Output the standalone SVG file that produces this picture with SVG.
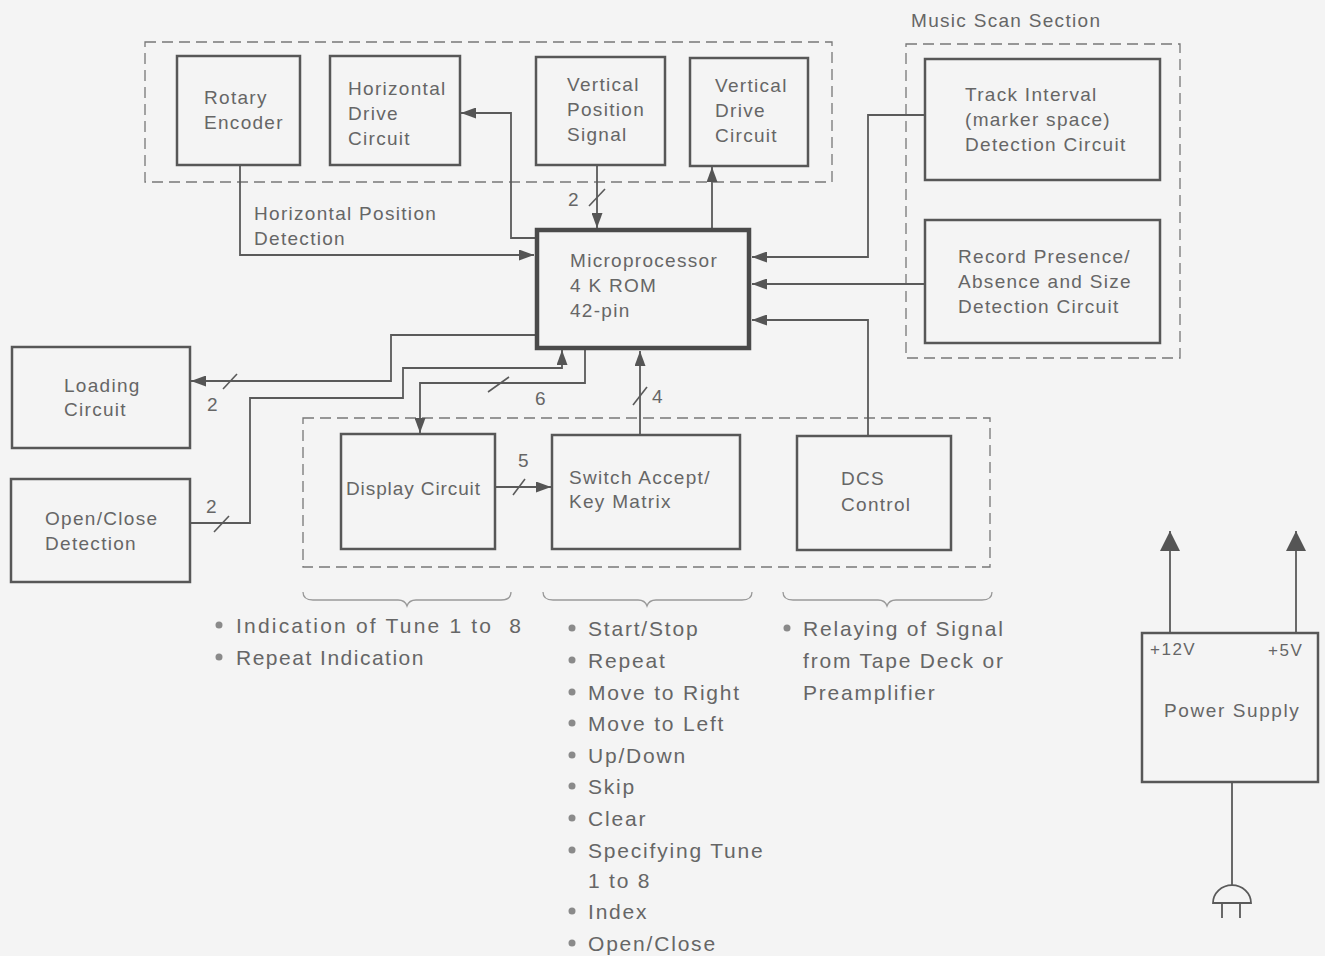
<svg xmlns="http://www.w3.org/2000/svg" width="1325" height="956" viewBox="0 0 1325 956">
<defs>
<style>
.bg{fill:#f4f4f4}
.box{fill:none;stroke:#575757;stroke-width:2.5}
.cpu{fill:none;stroke:#4a4a4a;stroke-width:4.5}
.dash{fill:none;stroke:#777;stroke-width:1.3;stroke-dasharray:11 6}
.ln{fill:none;stroke:#5a5a5a;stroke-width:1.8}
.sl{fill:none;stroke:#5a5a5a;stroke-width:1.6}
.arr{marker-end:url(#ah)}
.big{marker-end:url(#bh)}
text{font-family:"Liberation Sans",Arial,sans-serif;fill:#666}
.t{font-size:19px;letter-spacing:1.3px}
.l{font-size:21px;letter-spacing:1.8px}
.s{font-size:17px;letter-spacing:1.5px}
.dot{fill:#8a8a8a}
.br{fill:none;stroke:#999;stroke-width:1.3}
</style>
<marker id="ah" markerWidth="15" markerHeight="11" refX="15" refY="5.5" orient="auto" markerUnits="userSpaceOnUse"><path d="M0,0 L15,5.5 L0,11 Z" fill="#555"/></marker>
<marker id="bh" markerWidth="22" markerHeight="20" refX="20" refY="10" orient="auto" markerUnits="userSpaceOnUse"><path d="M0,0 L20,10 L0,20 Z" fill="#555"/></marker>
</defs>
<rect class="bg" x="0" y="0" width="1325" height="956"/>

<g id="groups">
<rect class="dash" x="145" y="42" width="687" height="140"/>
<rect class="dash" x="906" y="44" width="274" height="314"/>
<rect class="dash" x="303" y="418" width="687" height="149"/>
<text class="t" x="911" y="27">Music Scan Section</text>
</g>

<g id="connectors">
<path class="ln arr" d="M240,165 V255 H534"/>
<path class="ln arr" d="M535,238 H511 V113 H461"/>
<path class="ln arr" d="M597,165 V228"/>
<path class="sl" d="M589,206 L605,189"/>
<text class="t" x="568" y="206">2</text>
<path class="ln arr" d="M712,229 V167"/>
<path class="ln arr" d="M925,115 H868 V257 H752"/>
<path class="ln arr" d="M925,284 H752"/>
<path class="ln arr" d="M868,436 V320 H752"/>
<path class="ln arr" d="M535,335 H391 V381 H191"/>
<path class="sl" d="M223,389 L237,374"/>
<text class="t" x="207" y="411">2</text>
<path class="ln arr" d="M190,523 H250 V398 H403 V368 H562 V350"/>
<path class="sl" d="M214,532 L229,516"/>
<text class="t" x="206" y="513">2</text>
<path class="ln arr" d="M585,349 V383 H420 V433"/>
<path class="sl" d="M488,392 L509,377"/>
<text class="t" x="535" y="405">6</text>
<path class="ln arr" d="M640,435 V351"/>
<path class="sl" d="M633,405 L647,387"/>
<text class="t" x="652" y="403">4</text>
<path class="ln arr" d="M495,487 H551"/>
<path class="sl" d="M513,495 L525,479"/>
<text class="t" x="518" y="467">5</text>
<path class="ln big" d="M1170,633 V531"/>
<path class="ln big" d="M1296,633 V531"/>
<path class="ln" d="M1232,782 V885"/>
</g>

<g id="rotary-encoder">
<rect class="box" x="177" y="56" width="123" height="109"/>
<text class="t" x="204" y="104">Rotary</text>
<text class="t" x="204" y="129">Encoder</text>
</g>
<g id="horizontal-drive">
<rect class="box" x="330" y="56" width="130" height="109"/>
<text class="t" x="348" y="95">Horizontal</text>
<text class="t" x="348" y="120">Drive</text>
<text class="t" x="348" y="145">Circuit</text>
</g>
<g id="vertical-position">
<rect class="box" x="536" y="57" width="129" height="108"/>
<text class="t" x="567" y="91">Vertical</text>
<text class="t" x="567" y="116">Position</text>
<text class="t" x="567" y="141">Signal</text>
</g>
<g id="vertical-drive">
<rect class="box" x="690" y="58" width="118" height="108"/>
<text class="t" x="715" y="92">Vertical</text>
<text class="t" x="715" y="117">Drive</text>
<text class="t" x="715" y="142">Circuit</text>
</g>
<g id="horizontal-position-label">
<text class="t" x="254" y="220">Horizontal Position</text>
<text class="t" x="254" y="245">Detection</text>
</g>
<g id="microprocessor">
<rect class="cpu" x="537" y="230" width="212" height="118"/>
<text class="t" x="570" y="267">Microprocessor</text>
<text class="t" x="570" y="292">4 K ROM</text>
<text class="t" x="570" y="317">42-pin</text>
</g>
<g id="track-interval">
<rect class="box" x="925" y="59" width="235" height="121"/>
<text class="t" x="965" y="101">Track Interval</text>
<text class="t" x="965" y="126">(marker space)</text>
<text class="t" x="965" y="151">Detection Circuit</text>
</g>
<g id="record-presence">
<rect class="box" x="925" y="220" width="235" height="123"/>
<text class="t" x="958" y="263">Record Presence/</text>
<text class="t" x="958" y="288">Absence and Size</text>
<text class="t" x="958" y="313">Detection Circuit</text>
</g>
<g id="loading-circuit">
<rect class="box" x="12" y="347" width="178" height="101"/>
<text class="t" x="64" y="392">Loading</text>
<text class="t" x="64" y="416">Circuit</text>
</g>
<g id="open-close">
<rect class="box" x="11" y="479" width="179" height="103"/>
<text class="t" x="45" y="525">Open/Close</text>
<text class="t" x="45" y="550">Detection</text>
</g>
<g id="display-circuit">
<rect class="box" x="341" y="434" width="154" height="115"/>
<text class="t" x="346" y="495" style="letter-spacing:0.9px">Display Circuit</text>
</g>
<g id="switch-accept">
<rect class="box" x="552" y="435" width="188" height="114"/>
<text class="t" x="569" y="484">Switch Accept/</text>
<text class="t" x="569" y="508">Key Matrix</text>
</g>
<g id="dcs-control">
<rect class="box" x="797" y="436" width="154" height="114"/>
<text class="t" x="841" y="485">DCS</text>
<text class="t" x="841" y="511">Control</text>
</g>
<g id="power-supply">
<rect class="box" x="1142" y="633" width="176" height="149"/>
<text class="s" x="1150" y="655">+12V</text>
<text class="s" x="1268" y="656">+5V</text>
<text class="t" x="1164" y="717" style="letter-spacing:1.6px">Power Supply</text>
</g>
<g id="plug">
<path class="ln" d="M1213,903 A19,18 0 0 1 1251,903 Z"/>
<path class="ln" d="M1222,903 V918 M1240,903 V918"/>
</g>

<g id="braces">
<path class="br" d="M303,592 Q303,600 313,600 H398 Q405,600 407,606 Q409,600 416,600 H501 Q511,600 511,592"/>
<path class="br" d="M543,592 Q543,600 553,600 H638 Q645,600 647,606 Q649,600 656,600 H742 Q752,600 752,592"/>
<path class="br" d="M783,592 Q783,600 793,600 H878 Q885,600 887,606 Q889,600 896,600 H982 Q992,600 992,592"/>
</g>

<g id="notes">
<circle class="dot" cx="219" cy="625" r="3.5"/>
<text class="l" x="236" y="633" xml:space="preserve" style="letter-spacing:2.2px">Indication of Tune 1 to  8</text>
<circle class="dot" cx="219" cy="657" r="3.5"/>
<text class="l" x="236" y="665" style="letter-spacing:1.5px">Repeat Indication</text>

<circle class="dot" cx="572" cy="628" r="3.5"/>
<text class="l" x="588" y="636">Start/Stop</text>
<circle class="dot" cx="572" cy="660" r="3.5"/>
<text class="l" x="588" y="668">Repeat</text>
<circle class="dot" cx="572" cy="692" r="3.5"/>
<text class="l" x="588" y="700">Move to Right</text>
<circle class="dot" cx="572" cy="723" r="3.5"/>
<text class="l" x="588" y="731">Move to Left</text>
<circle class="dot" cx="572" cy="755" r="3.5"/>
<text class="l" x="588" y="763">Up/Down</text>
<circle class="dot" cx="572" cy="786" r="3.5"/>
<text class="l" x="588" y="794">Skip</text>
<circle class="dot" cx="572" cy="818" r="3.5"/>
<text class="l" x="588" y="826">Clear</text>
<circle class="dot" cx="572" cy="850" r="3.5"/>
<text class="l" x="588" y="858">Specifying Tune</text>
<text class="l" x="588" y="888">1 to 8</text>
<circle class="dot" cx="572" cy="911" r="3.5"/>
<text class="l" x="588" y="919">Index</text>
<circle class="dot" cx="572" cy="943" r="3.5"/>
<text class="l" x="588" y="951">Open/Close</text>

<circle class="dot" cx="787" cy="628" r="3.5"/>
<text class="l" x="803" y="636">Relaying of Signal</text>
<text class="l" x="803" y="668">from Tape Deck or</text>
<text class="l" x="803" y="700">Preamplifier</text>
</g>
</svg>
